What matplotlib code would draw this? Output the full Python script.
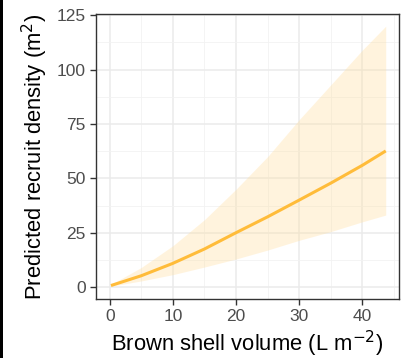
import matplotlib
matplotlib.use("Agg")
import matplotlib.pyplot as plt
from matplotlib.patches import Rectangle

shell_volume = [0.2, 5, 10, 15, 20, 25, 30, 35, 40, 43.7]
pred_density = [0.7, 5.2, 10.9, 17.5, 25.0, 32.3, 40.0, 47.8, 56.0, 62.6]
upper_ci = [1.2, 9.0, 19.0, 31.0, 45.0, 60.0, 77.0, 93.0, 109.0, 120.0]
lower_ci = [0.4, 2.8, 5.7, 9.2, 12.9, 17.0, 21.5, 25.5, 30.0, 33.1]
x_ticks = [0, 10, 20, 30, 40]
y_ticks = [0, 25, 50, 75, 100, 125]

plt.rcParams['font.family'] = ['Liberation Sans', 'DejaVu Sans']

fig = plt.figure(figsize=(4.08, 3.58), dpi=100)
W, H = 408, 358
ax = fig.add_axes([96 / W, 1 - 299 / H, (399 - 96) / W, (299 - 14) / H])

ax.fill_between(shell_volume, lower_ci, upper_ci, color='#FFDFA0', alpha=0.35,
                linewidth=0, zorder=2)
ax.plot(shell_volume, pred_density, color='#FFBC3A', linewidth=2.2, zorder=3,
        solid_capstyle='butt')

ax.set_xlim(-2.17, 45.8)
ax.set_ylim(-5.5, 125.6)
ax.set_xticks(x_ticks)
ax.set_yticks(y_ticks)
ax.set_xticks([5, 15, 25, 35, 45], minor=True)
ax.set_yticks([12.5, 37.5, 62.5, 87.5, 112.5], minor=True)
ax.grid(True, which='major', color='#EBEBEB', linewidth=1.1, zorder=0)
ax.grid(True, which='minor', color='#F2F2F2', linewidth=0.6, zorder=0)
ax.set_axisbelow(True)

for s in ax.spines.values():
    s.set_color('#333333')
    s.set_linewidth(1.0)

ax.tick_params(which='major', length=4.5, width=1, color='#333333',
               labelsize=12.5, labelcolor='#4D4D4D', pad=3)
ax.tick_params(which='minor', length=0)

ax.set_xlabel('Brown shell volume (L m$^{-2}$)', fontsize=15.8, color='black', labelpad=3)
ax.set_ylabel('Predicted recruit density (m$^{2}$)', fontsize=15.8, color='black', labelpad=5)

fig.patches.append(Rectangle((0, 0), 3 / W, 1, transform=fig.transFigure,
                             facecolor='black', edgecolor='none'))

fig.savefig('out.png', dpi=100)
